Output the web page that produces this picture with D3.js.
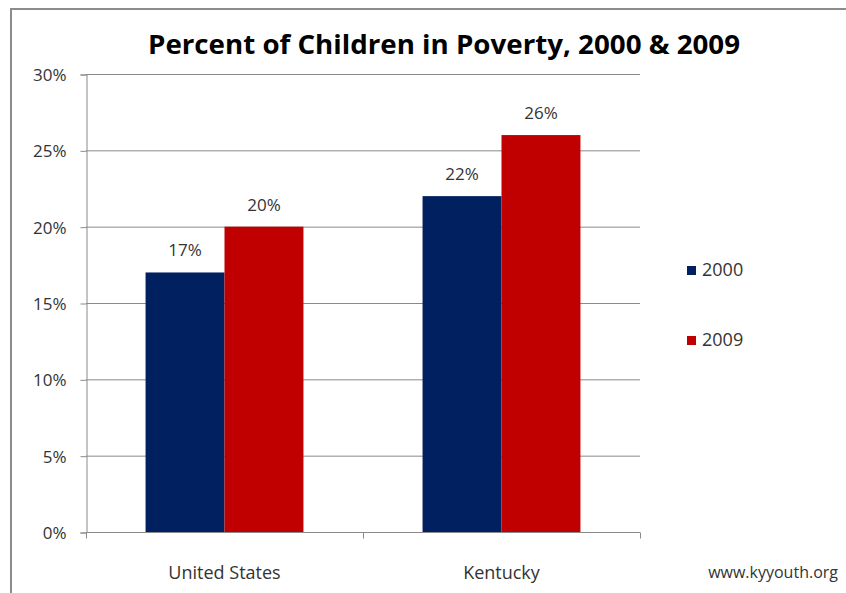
<!DOCTYPE html>
<html>
<head>
<meta charset="utf-8">
<script src="https://cdn.jsdelivr.net/npm/d3@7"></script>
<style>
  body { margin: 0; background: #fff; }
  svg text { font-family: "Open Sans", "DejaVu Sans", sans-serif; fill: #262626; }
</style>
</head>
<body>
<div id="chart"></div>
<script>
// data
const categories = ['United States', 'Kentucky'];
const seriesNames = ['2000', '2009'];
const values2000 = [17, 22];
const values2009 = [20, 26];
const yTicks = [0, 5, 10, 15, 20, 25, 30];
const seriesColors = ['#002060', '#c00000'];

const width = 846, height = 593;
const plot = { left: 86, right: 640, top: 74, bottom: 532 };

const svg = d3.select('#chart').append('svg')
    .attr('width', width)
    .attr('height', height);

// chart frame (runs off the right and bottom of the picture)
svg.append('path')
    .attr('d', `M11,${height + 5} V9 H${width + 5}`)
    .attr('fill', 'none')
    .attr('stroke', '#8c8c8c')
    .attr('stroke-width', 2);

svg.append('text')
    .attr('x', 444)
    .attr('y', 54)
    .attr('text-anchor', 'middle')
    .attr('textLength', 592)
    .attr('lengthAdjust', 'spacingAndGlyphs')
    .style('font-size', '27px')
    .style('font-weight', 'bold')
    .style('fill', '#000')
    .text('Percent of Children in Poverty, 2000 & 2009');

const x0 = d3.scaleBand()
    .domain(categories)
    .range([plot.left, plot.right])
    .paddingInner(0.43)
    .paddingOuter(0.215);

const x1 = d3.scaleBand()
    .domain(seriesNames)
    .range([0, x0.bandwidth()]);

const y = d3.scaleLinear()
    .domain([0, 30])
    .range([plot.bottom, plot.top]);

// gridlines
svg.append('g')
    .selectAll('line')
    .data(yTicks.filter(d => d > 0))
    .join('line')
    .attr('x1', plot.left)
    .attr('x2', plot.right)
    .attr('y1', d => y(d) + 0.5)
    .attr('y2', d => y(d) + 0.5)
    .attr('stroke', '#8a8a8a')
    .attr('stroke-width', 1);

// y axis
const yAxis = svg.append('g')
    .attr('transform', `translate(${plot.left + 0.5},0.5)`)
    .call(d3.axisLeft(y).tickValues(yTicks).tickFormat(d => d + '%').tickSize(6).tickPadding(14));
yAxis.select('.domain').attr('stroke', '#8a8a8a');
yAxis.selectAll('.tick line').attr('stroke', '#8a8a8a');
yAxis.selectAll('.tick text')
    .style('font-size', '17px')
    .attr('dy', '0.35em')
    .style('fill', '#333');

// bars
const rows = categories.map((c, i) => ({ cat: c, vals: [values2000[i], values2009[i]] }));

const groups = svg.append('g')
    .selectAll('g')
    .data(rows)
    .join('g')
    .attr('transform', d => `translate(${x0(d.cat)},0)`);

groups.selectAll('rect')
    .data(d => d.vals.map((v, j) => ({ key: seriesNames[j], v, j })))
    .join('rect')
    .attr('x', d => x1(d.key))
    .attr('y', d => y(d.v))
    .attr('width', x1.bandwidth())
    .attr('height', d => y(0) - y(d.v))
    .attr('fill', d => seriesColors[d.j]);

groups.selectAll('text.val')
    .data(d => d.vals.map((v, j) => ({ key: seriesNames[j], v, j })))
    .join('text')
    .attr('class', 'val')
    .attr('x', d => x1(d.key) + x1.bandwidth() / 2)
    .attr('y', d => y(d.v) - 16)
    .attr('text-anchor', 'middle')
    .style('font-size', '17px')
    .style('fill', '#333')
    .text(d => d.v + '%');

// x axis
const xAxis = svg.append('g')
    .attr('transform', `translate(0,${plot.bottom + 0.5})`);
xAxis.append('line')
    .attr('x1', plot.left)
    .attr('x2', plot.right)
    .attr('stroke', '#8a8a8a');
xAxis.selectAll('line.tk')
    .data([plot.left, (plot.left + plot.right) / 2, plot.right])
    .join('line')
    .attr('class', 'tk')
    .attr('x1', d => d + 0.5)
    .attr('x2', d => d + 0.5)
    .attr('y1', 0)
    .attr('y2', 6)
    .attr('stroke', '#8a8a8a');
xAxis.selectAll('text')
    .data(categories)
    .join('text')
    .attr('x', d => x0(d) + x0.bandwidth() / 2)
    .attr('y', 46)
    .attr('text-anchor', 'middle')
    .style('font-size', '18px')
    .style('fill', '#333')
    .text(d => d);

// legend
const legend = svg.append('g')
    .selectAll('g')
    .data(seriesNames)
    .join('g')
    .attr('transform', (d, i) => `translate(687,${270 + i * 70})`);
legend.append('rect')
    .attr('x', 0)
    .attr('y', -4)
    .attr('width', 9)
    .attr('height', 9)
    .attr('fill', (d, i) => seriesColors[i]);
legend.append('text')
    .attr('x', 15)
    .attr('y', 0)
    .attr('dy', '0.35em')
    .style('font-size', '18px')
    .style('fill', '#333')
    .text(d => d);

// source note
svg.append('text')
    .attr('x', 838)
    .attr('y', 578)
    .attr('text-anchor', 'end')
    .style('font-size', '16px')
    .style('fill', '#333')
    .text('www.kyyouth.org');
</script>
</body>
</html>
